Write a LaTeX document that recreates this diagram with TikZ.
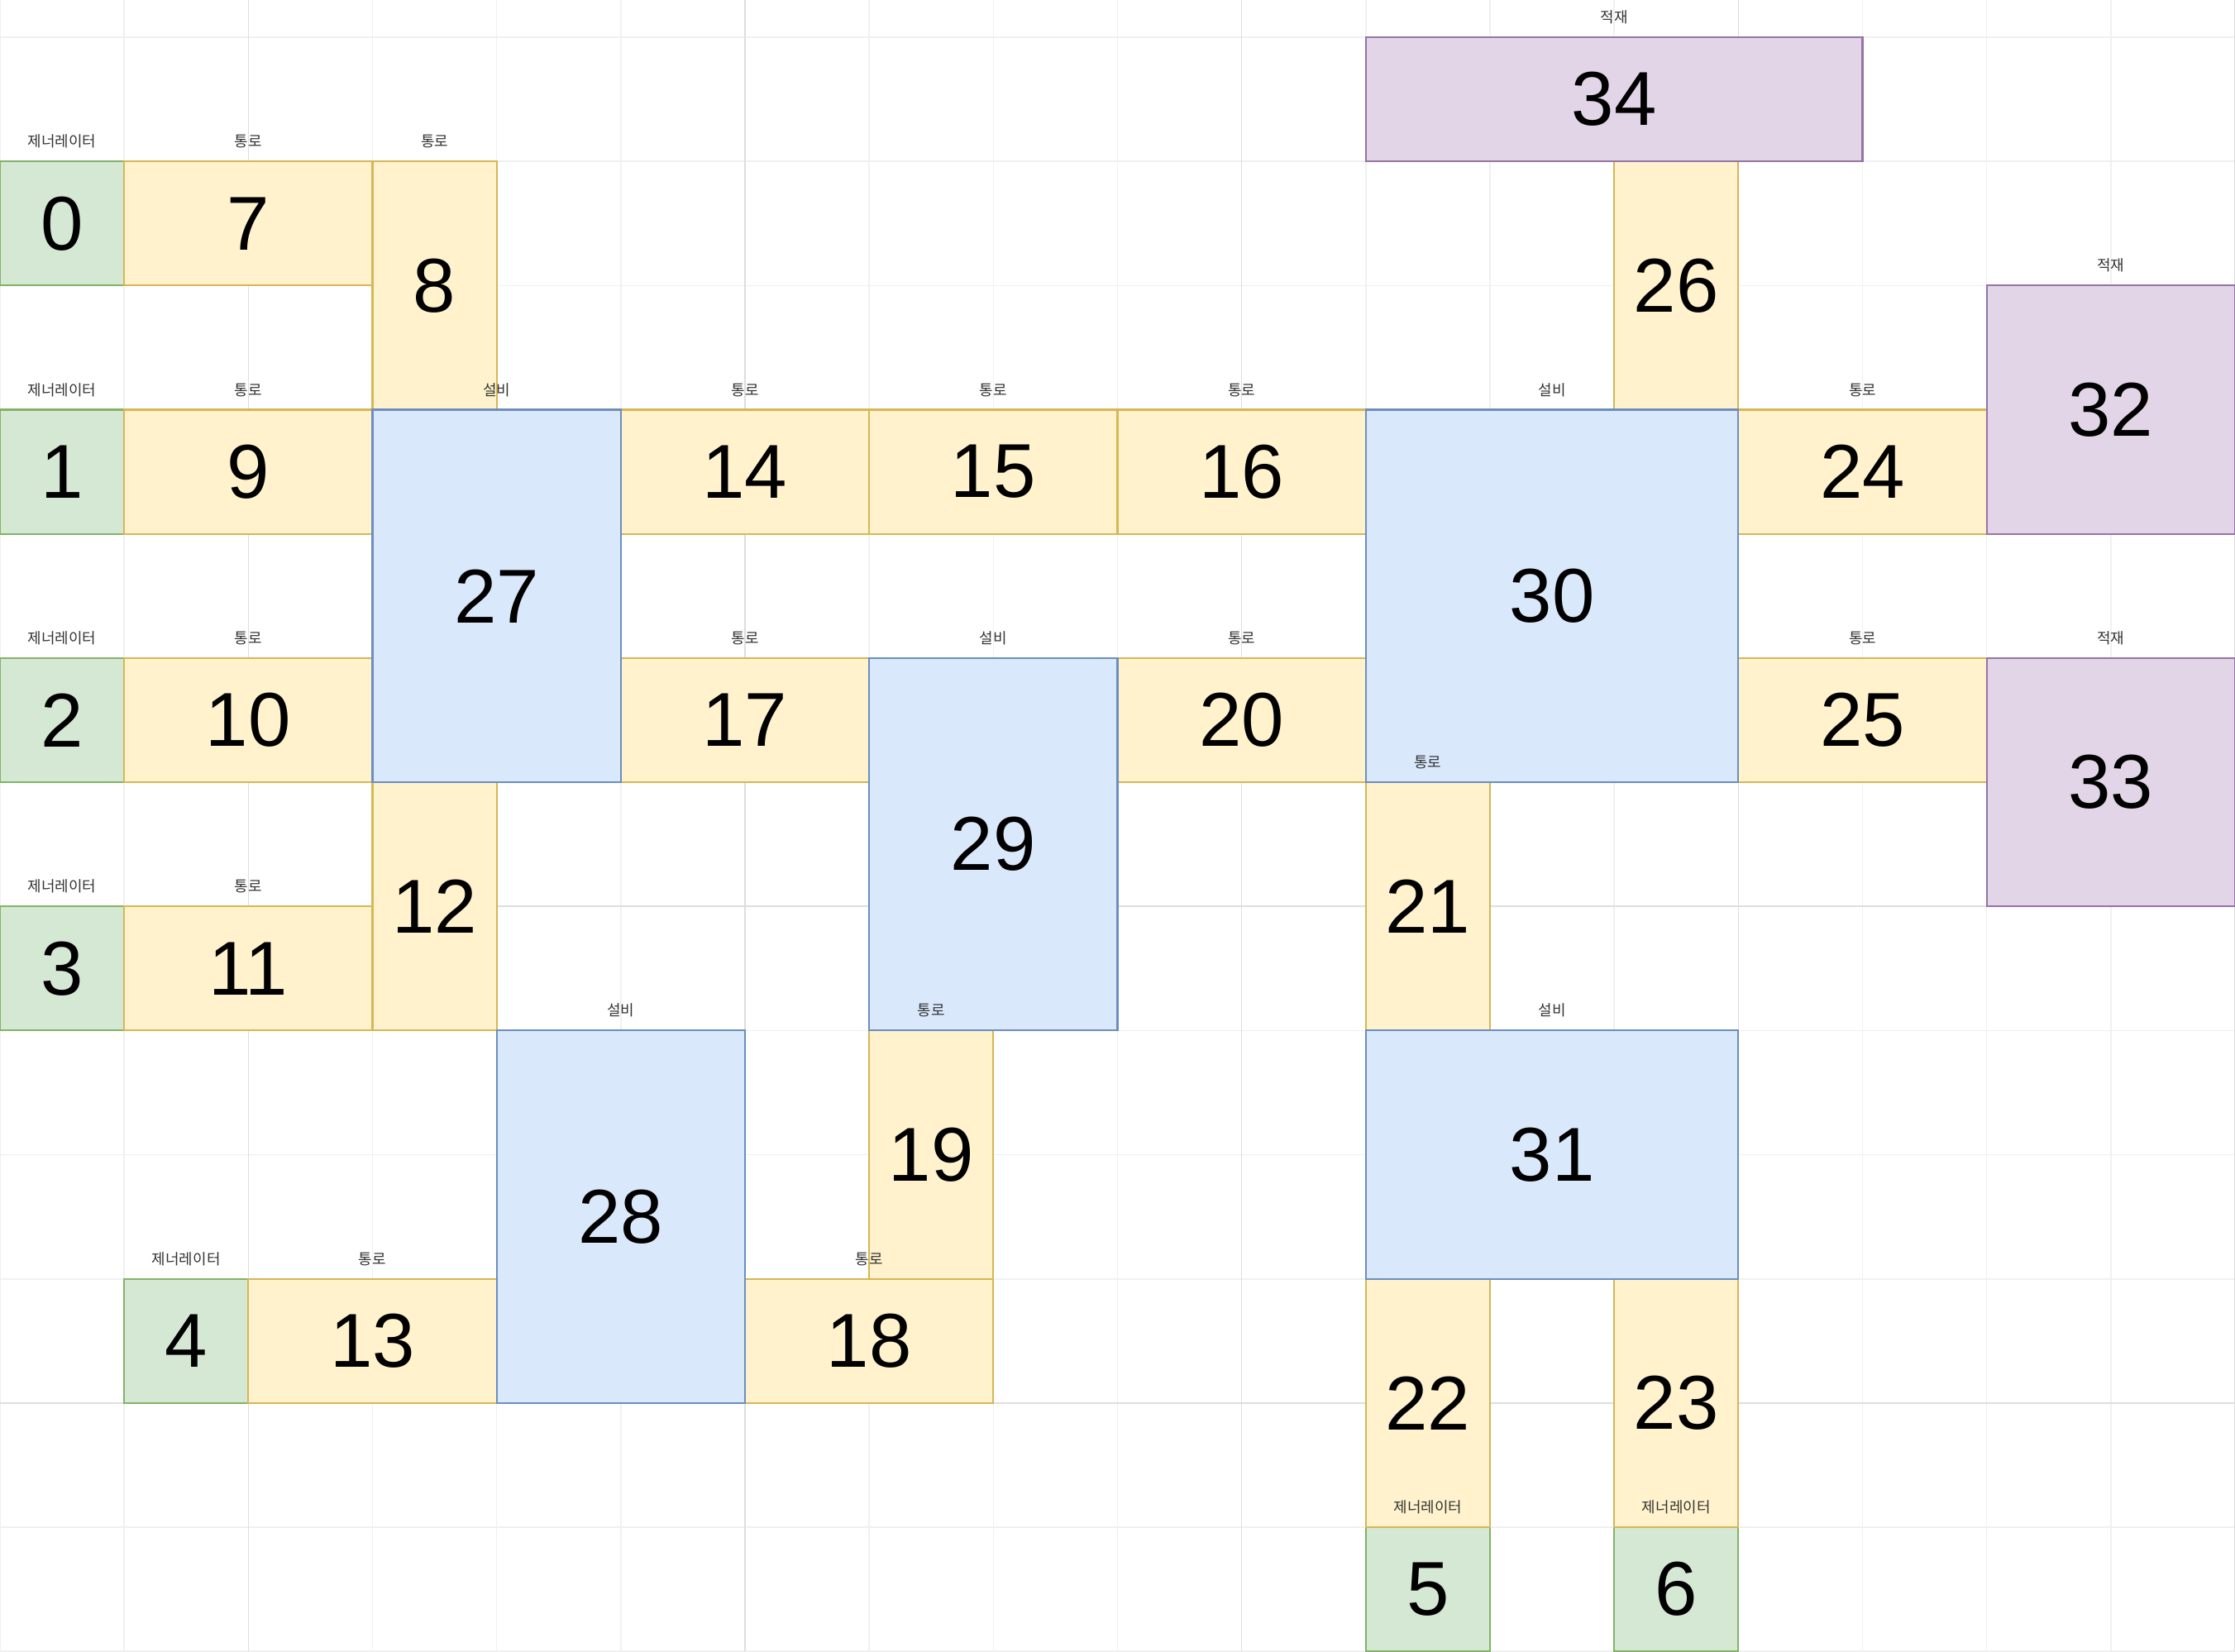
\documentclass[tikz,border=0pt]{standalone}
\usepackage{fontspec}
\setmainfont{Liberation Sans}
\newfontfamily\kr{Noto Sans CJK KR}
\usepackage{tikz}

\definecolor{genfill}{HTML}{D5E8D4}
\definecolor{genline}{HTML}{82B366}
\definecolor{roadfill}{HTML}{FFF2CC}
\definecolor{roadline}{HTML}{D6B656}
\definecolor{equipfill}{HTML}{DAE8FC}
\definecolor{equipline}{HTML}{6C8EBF}
\definecolor{storefill}{HTML}{E1D5E7}
\definecolor{storeline}{HTML}{9673A6}
\definecolor{gridminor}{HTML}{F0F0F0}
\definecolor{gridmajor}{HTML}{DEDEDE}
\definecolor{tagtext}{HTML}{333333}

\begin{document}
\begin{tikzpicture}[
    cell/.style={draw, inner sep=0pt, outer sep=0pt, line width=0.4pt,
        font=\fontsize{17.5}{17.5}\selectfont},
    size/.style 2 args={minimum width=#1cm, minimum height=#2cm},
    gen/.style={cell, fill=genfill, draw=genline},
    road/.style={cell, fill=roadfill, draw=roadline},
    equip/.style={cell, fill=equipfill, draw=equipline},
    store/.style={cell, fill=storefill, draw=storeline},
    tag/.style={anchor=south, inner sep=0pt, yshift=0.1cm, text=tagtext,
        font=\kr\fontsize{3.4}{3.4}\selectfont}
]
    % 배경과 격자
    \fill[white] (0,0) rectangle (18,13.3);
    \useasboundingbox (0,0) rectangle (18,13.3);
    \draw[gridminor, line width=0.3pt, step=1] (0,0) grid (18,13.3);
    \foreach \x in {2,6,10,14,18}
        \draw[gridmajor, line width=0.3pt] (\x,0) -- (\x,13.3);
    \foreach \y in {2,6,10}
        \draw[gridmajor, line width=0.3pt] (0,\y) -- (18,\y);

    % 제너레이터
    \node[gen, size={1}{1}] (g0) at (0.5,11.5) {0};
    \node[gen, size={1}{1}] (g1) at (0.5,9.5) {1};
    \node[gen, size={1}{1}] (g2) at (0.5,7.5) {2};
    \node[gen, size={1}{1}] (g3) at (0.5,5.5) {3};
    \node[gen, size={1}{1}] (g4) at (1.5,2.5) {4};
    \node[gen, size={1}{1}] (g5) at (11.5,0.5) {5};
    \node[gen, size={1}{1}] (g6) at (13.5,0.5) {6};

    % 통로
    \node[road, size={2}{1}] (r7) at (2,11.5) {7};
    \node[road, size={1}{2}] (r8) at (3.5,11) {8};
    \node[road, size={2}{1}] (r9) at (2,9.5) {9};
    \node[road, size={2}{1}] (r10) at (2,7.5) {10};
    \node[road, size={2}{1}] (r11) at (2,5.5) {11};
    \node[road, size={1}{2}] (r12) at (3.5,6) {12};
    \node[road, size={2}{1}] (r13) at (3,2.5) {13};
    \node[road, size={2}{1}] (r14) at (6,9.5) {14};
    \node[road, size={2}{1}] (r15) at (8,9.5) {15};
    \node[road, size={2}{1}] (r16) at (10,9.5) {16};
    \node[road, size={2}{1}] (r17) at (6,7.5) {17};
    \node[road, size={2}{1}] (r18) at (7,2.5) {18};
    \node[road, size={1}{2}] (r19) at (7.5,4) {19};
    \node[road, size={2}{1}] (r20) at (10,7.5) {20};
    \node[road, size={1}{2}] (r21) at (11.5,6) {21};
    \node[road, size={1}{2}] (r22) at (11.5,2) {22};
    \node[road, size={1}{2}] (r23) at (13.5,2) {23};
    \node[road, size={2}{1}] (r24) at (15,9.5) {24};
    \node[road, size={2}{1}] (r25) at (15,7.5) {25};
    \node[road, size={1}{2}] (r26) at (13.5,11) {26};

    % 설비
    \node[equip, size={2}{3}] (e27) at (4,8.5) {27};
    \node[equip, size={2}{3}] (e28) at (5,3.5) {28};
    \node[equip, size={2}{3}] (e29) at (8,6.5) {29};
    \node[equip, size={3}{3}] (e30) at (12.5,8.5) {30};
    \node[equip, size={3}{2}] (e31) at (12.5,4) {31};

    % 적재
    \node[store, size={2}{2}] (s32) at (17,10) {32};
    \node[store, size={2}{2}] (s33) at (17,7) {33};
    \node[store, size={4}{1}] (s34) at (13,12.5) {34};

    % 이름표
    \node[tag] at (g0.north) {제너레이터};
    \node[tag] at (g1.north) {제너레이터};
    \node[tag] at (g2.north) {제너레이터};
    \node[tag] at (g3.north) {제너레이터};
    \node[tag] at (g4.north) {제너레이터};
    \node[tag] at (g5.north) {제너레이터};
    \node[tag] at (g6.north) {제너레이터};
    \node[tag] at (r7.north) {통로};
    \node[tag] at (r8.north) {통로};
    \node[tag] at (r9.north) {통로};
    \node[tag] at (r10.north) {통로};
    \node[tag] at (r11.north) {통로};
    \node[tag] at (r13.north) {통로};
    \node[tag] at (r14.north) {통로};
    \node[tag] at (r15.north) {통로};
    \node[tag] at (r16.north) {통로};
    \node[tag] at (r17.north) {통로};
    \node[tag] at (r18.north) {통로};
    \node[tag] at (r19.north) {통로};
    \node[tag] at (r20.north) {통로};
    \node[tag] at (r21.north) {통로};
    \node[tag] at (r24.north) {통로};
    \node[tag] at (r25.north) {통로};
    \node[tag] at (e27.north) {설비};
    \node[tag] at (e28.north) {설비};
    \node[tag] at (e29.north) {설비};
    \node[tag] at (e30.north) {설비};
    \node[tag] at (e31.north) {설비};
    \node[tag] at (s32.north) {적재};
    \node[tag] at (s33.north) {적재};
    \node[tag] at (s34.north) {적재};
\end{tikzpicture}
\end{document}
